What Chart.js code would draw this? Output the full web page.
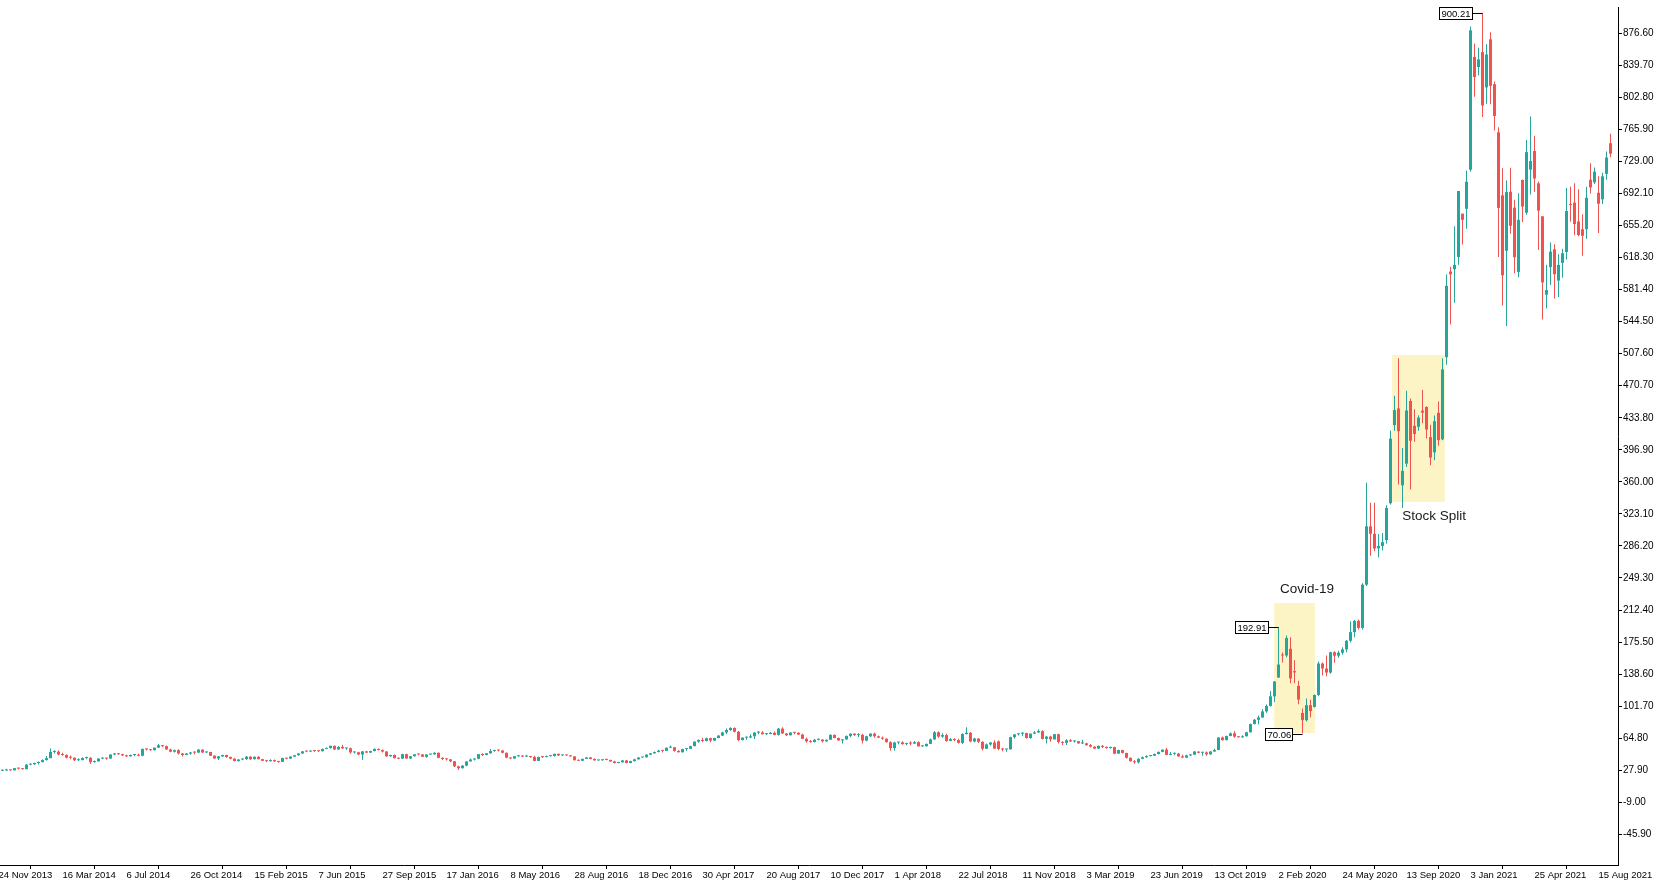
<!DOCTYPE html>
<html>
<head>
<meta charset="utf-8">
<title>Weekly candles</title>
<script src="https://cdn.jsdelivr.net/npm/chart.js@4/dist/chart.umd.min.js"></script>
<style>
  html, body { margin: 0; padding: 0; background: #fff; }
  #chart { display: block; }
</style>
</head>
<body>
<canvas id="chart" width="1657" height="887"></canvas>
<script>
// time axis: one label every 16 weekly candles
const xLabels = [
  '24 Nov 2013', '16 Mar 2014', '6 Jul 2014', '26 Oct 2014', '15 Feb 2015', '7 Jun 2015',
  '27 Sep 2015', '17 Jan 2016', '8 May 2016', '28 Aug 2016', '18 Dec 2016', '30 Apr 2017',
  '20 Aug 2017', '10 Dec 2017', '1 Apr 2018', '22 Jul 2018', '11 Nov 2018', '3 Mar 2019',
  '23 Jun 2019', '13 Oct 2019', '2 Feb 2020', '24 May 2020', '13 Sep 2020', '3 Jan 2021',
  '25 Apr 2021', '15 Aug 2021'
];
const labelStep = 16;

const yTicks = [
  -45.9, -9, 27.9, 64.8, 101.7, 138.6, 175.5, 212.4, 249.3, 286.2, 323.1, 360, 396.9,
  433.8, 470.7, 507.6, 544.5, 581.4, 618.3, 655.2, 692.1, 729, 765.9, 802.8, 839.7, 876.6
];

// weekly OHLC, one entry per candle (index 0 = week of 24 Nov 2013)
const opens = [
  26.2, 27.3, 27.6, 28.0, 27.8, 30.3, 29.8, 29.1, 34.3, 34.8,
  36.2, 37.2, 39.6, 41.8, 49.0, 49.3, 46.0, 45.4, 42.4, 42.3,
  39.4, 39.5, 41.9, 42.2, 37.3, 38.1, 41.3, 41.6, 41.3, 46.0,
  47.0, 46.4, 45.0, 43.9, 45.4, 45.5, 44.6, 52.4, 51.9, 51.0,
  53.9, 56.6, 55.6, 51.8, 49.2, 51.0, 47.2, 45.4, 47.1, 48.4,
  48.2, 51.6, 48.4, 48.9, 44.6, 41.4, 43.9, 45.4, 43.1, 41.2,
  38.4, 40.2, 40.6, 43.5, 40.6, 43.4, 40.6, 38.7, 38.2, 39.6,
  38.0, 37.5, 42.0, 41.2, 43.6, 45.2, 47.2, 49.6, 49.4, 50.1,
  50.0, 49.8, 52.4, 53.4, 56.0, 51.8, 54.8, 53.0, 53.2, 48.4,
  48.6, 46.0, 49.6, 48.2, 50.0, 52.4, 51.2, 49.4, 44.0, 45.4,
  41.8, 41.2, 46.4, 41.4, 44.0, 46.2, 46.0, 43.4, 46.0, 46.2,
  48.0, 42.2, 40.8, 40.4, 38.2, 32.4, 30.2, 33.2, 38.0, 40.2,
  41.0, 46.4, 45.4, 47.4, 50.0, 50.8, 50.6, 48.0, 42.4, 41.4,
  44.0, 44.6, 43.6, 43.8, 43.0, 38.6, 43.2, 43.0, 44.0, 44.4,
  46.8, 45.0, 45.2, 45.0, 43.8, 39.4, 38.8, 41.0, 42.6, 40.8,
  39.2, 39.4, 40.0, 39.8, 38.0, 36.2, 37.0, 39.2, 36.2, 38.4,
  40.4, 42.6, 42.8, 45.8, 47.4, 48.8, 50.4, 50.2, 53.8, 54.4,
  50.2, 48.6, 52.2, 52.6, 55.6, 60.8, 62.8, 61.6, 64.8, 62.0,
  65.0, 67.8, 71.4, 74.2, 76.6, 72.2, 62.6, 65.4, 65.6, 67.0,
  71.2, 71.4, 69.4, 69.6, 71.0, 68.6, 75.8, 70.2, 68.2, 71.2,
  71.0, 69.0, 64.0, 61.2, 60.4, 63.0, 63.2, 61.2, 63.0, 68.6,
  65.0, 62.2, 63.4, 67.4, 70.0, 68.4, 68.6, 62.0, 67.0, 70.0,
  67.0, 65.4, 64.2, 60.2, 53.4, 59.8, 60.0, 58.0, 58.8, 58.6,
  60.2, 55.4, 55.6, 58.2, 63.4, 71.6, 66.6, 68.4, 61.6, 63.6,
  62.6, 59.4, 69.6, 71.0, 61.0, 64.4, 60.6, 52.6, 57.6, 59.8,
  61.2, 52.4, 51.8, 52.0, 66.0, 69.2, 70.0, 70.8, 65.0, 70.0,
  71.4, 73.0, 64.0, 66.6, 63.4, 69.4, 60.4, 59.4, 62.4, 61.0,
  61.4, 58.8, 58.9, 56.8, 55.0, 52.8, 56.0, 54.8, 53.4, 54.6,
  47.0, 51.2, 47.8, 42.2, 38.2, 37.0, 41.0, 42.8, 44.2, 44.6,
  46.6, 49.0, 51.6, 45.6, 46.8, 47.0, 43.8, 42.4, 45.0, 45.8,
  49.4, 48.0, 48.4, 46.2, 49.4, 51.2, 65.6, 62.6, 67.4, 70.4,
  66.6, 65.8, 67.0, 71.6, 81.0, 86.0, 88.6, 95.6, 102.0, 113.0,
  134.7, 160.6, 160.0, 167.8, 142.0, 125.0, 93.8, 85.5, 102.8, 100.8,
  114.6, 150.8, 145.0, 140.4, 163.8, 159.8, 163.2, 167.0, 177.0, 187.0,
  200.0, 191.8, 241.6, 308.8, 300.2, 283.4, 286.2, 293.0, 335.4, 425.3,
  444.6, 356.0, 381.0, 453.1, 424.6, 423.4, 442.0, 446.2, 411.6, 394.0,
  439.5, 408.9, 503.5, 602.2, 604.9, 619.0, 668.9, 674.5, 719.5, 849.4,
  837.8, 855.0, 814.3, 869.7, 818.0, 762.6, 690.0, 626.1, 694.1, 675.8,
  601.8, 707.7, 670.0, 719.6, 741.0, 703.8, 665.8, 575.6, 607.3, 627.8,
  591.8, 612.2, 624.7, 679.8, 681.6, 659.9, 651.0, 651.0, 708.0, 705.0,
  693.0, 685.4, 714.7, 750.0
];
const highs = [
  27.6, 28.6, 29.6, 28.8, 30.5, 30.8, 30.5, 35.2, 35.6, 36.5,
  37.8, 40.5, 44.4, 53.0, 51.0, 50.5, 48.0, 46.2, 44.8, 42.6,
  41.6, 42.8, 43.4, 42.8, 39.0, 41.6, 42.6, 42.2, 46.4, 47.6,
  47.6, 46.8, 45.6, 46.0, 46.0, 46.8, 52.8, 52.9, 52.2, 54.0,
  58.2, 57.0, 56.4, 52.5, 51.8, 52.0, 47.8, 47.8, 48.8, 49.8,
  52.4, 52.0, 49.4, 49.2, 45.2, 44.2, 45.6, 45.8, 43.8, 41.8,
  40.8, 41.6, 44.2, 44.0, 43.8, 43.9, 41.0, 39.4, 40.4, 40.2,
  38.4, 42.4, 42.2, 44.0, 45.2, 47.4, 50.0, 50.4, 50.6, 50.6,
  50.4, 52.8, 54.0, 56.4, 56.4, 55.6, 57.2, 53.8, 54.0, 49.6,
  49.2, 50.0, 50.2, 50.2, 53.2, 53.0, 51.8, 50.0, 45.8, 46.0,
  42.4, 46.8, 47.0, 44.4, 46.4, 47.0, 46.6, 46.4, 46.6, 48.6,
  48.2, 42.8, 41.6, 40.8, 38.6, 33.0, 33.8, 38.2, 41.4, 41.6,
  46.6, 47.4, 47.8, 52.2, 51.6, 51.4, 51.2, 48.4, 42.8, 44.4,
  45.2, 45.0, 45.6, 44.4, 44.6, 43.4, 43.6, 44.8, 45.0, 47.0,
  47.0, 45.6, 45.6, 45.4, 44.0, 40.2, 41.2, 43.0, 43.0, 41.6,
  40.0, 40.6, 41.0, 40.0, 38.8, 37.6, 39.4, 39.8, 38.8, 41.0,
  42.8, 43.2, 46.4, 47.6, 49.4, 51.4, 50.8, 54.2, 56.4, 54.6,
  50.8, 52.6, 53.2, 56.2, 61.4, 63.4, 65.4, 65.2, 65.2, 65.2,
  68.2, 72.2, 76.0, 77.4, 77.0, 73.0, 65.8, 66.8, 69.2, 72.0,
  73.0, 73.2, 70.8, 71.8, 72.6, 76.4, 77.4, 70.8, 71.8, 72.0,
  71.6, 70.0, 65.2, 62.8, 63.8, 64.4, 63.6, 63.4, 69.4, 69.0,
  65.6, 63.8, 67.8, 70.2, 70.6, 70.4, 70.0, 67.6, 70.4, 71.0,
  67.8, 66.8, 64.8, 61.2, 60.6, 60.6, 61.2, 59.6, 61.4, 61.6,
  61.2, 57.0, 58.6, 64.4, 73.0, 72.8, 70.4, 70.0, 65.0, 64.6,
  64.2, 70.4, 77.4, 72.0, 65.4, 64.6, 61.2, 58.8, 60.4, 62.4,
  62.2, 53.6, 52.4, 66.4, 69.4, 70.4, 71.8, 71.0, 70.2, 73.0,
  75.0, 74.0, 67.4, 67.6, 69.6, 69.8, 61.4, 63.6, 63.8, 62.4,
  61.6, 63.0, 59.4, 58.2, 55.6, 56.4, 57.0, 55.2, 55.2, 54.8,
  51.6, 51.4, 48.0, 42.6, 39.6, 41.6, 43.8, 45.0, 45.4, 47.2,
  49.4, 51.8, 53.4, 48.8, 48.2, 47.8, 45.6, 45.6, 46.2, 50.0,
  49.6, 49.2, 49.4, 50.0, 52.6, 66.0, 66.8, 67.6, 71.4, 72.8,
  67.4, 68.2, 72.2, 81.6, 87.0, 90.8, 98.2, 103.6, 119.0, 130.6,
  192.91, 163.4, 183.0, 181.0, 154.6, 131.0, 99.0, 110.6, 109.0, 115.0,
  153.0, 152.0, 160.0, 164.4, 165.0, 165.6, 169.6, 178.0, 199.6, 201.0,
  201.6, 243.2, 359.0, 335.8, 336.0, 300.0, 301.2, 333.0, 419.1, 459.1,
  502.5, 399.0, 465.0, 456.0, 443.7, 436.8, 465.9, 447.0, 425.8, 436.4,
  452.5, 502.5, 598.8, 607.8, 654.3, 695.0, 668.9, 718.7, 884.5, 865.0,
  860.0, 900.21, 864.0, 877.8, 821.0, 768.5, 721.1, 707.0, 721.8, 684.8,
  692.4, 708.2, 753.8, 780.8, 758.5, 706.0, 666.1, 610.0, 635.6, 633.8,
  622.0, 628.4, 698.3, 700.0, 704.0, 697.0, 668.2, 700.0, 727.0, 722.0,
  712.0, 716.0, 740.4, 761.0
];
const lows = [
  25.8, 27.0, 27.4, 27.2, 27.6, 28.8, 28.7, 28.9, 33.5, 33.8,
  34.6, 37.0, 39.0, 41.6, 47.2, 45.0, 44.6, 41.3, 40.6, 38.6,
  38.5, 39.4, 40.6, 35.2, 36.5, 37.8, 40.6, 40.0, 41.2, 45.0,
  45.6, 44.3, 43.0, 43.6, 44.0, 44.0, 44.0, 50.5, 50.4, 50.6,
  53.4, 54.4, 51.4, 48.6, 48.2, 46.0, 43.6, 45.0, 45.6, 46.4,
  48.0, 47.6, 47.6, 44.2, 41.0, 39.6, 43.2, 42.4, 40.4, 38.2,
  38.0, 39.4, 40.0, 39.8, 40.2, 40.4, 38.6, 37.4, 38.0, 37.6,
  36.6, 37.3, 40.4, 41.0, 43.0, 44.6, 46.6, 48.6, 48.8, 49.0,
  49.0, 49.6, 52.0, 53.0, 51.2, 51.4, 52.6, 51.4, 47.0, 47.2,
  45.2, 39.8, 47.6, 47.6, 49.4, 50.6, 48.4, 43.2, 43.4, 41.4,
  40.4, 41.0, 41.2, 40.8, 43.6, 45.0, 43.0, 42.4, 45.4, 45.8,
  41.8, 39.6, 39.0, 37.0, 31.6, 28.2, 30.0, 32.6, 37.8, 39.0,
  40.6, 44.4, 45.0, 47.0, 49.2, 49.4, 47.4, 41.8, 40.6, 41.0,
  43.4, 43.0, 43.4, 42.4, 38.2, 38.4, 42.0, 42.8, 43.6, 43.8,
  44.2, 44.4, 44.6, 43.6, 39.0, 38.6, 38.4, 40.8, 40.6, 39.0,
  38.8, 38.8, 39.4, 37.6, 35.6, 35.8, 36.8, 36.0, 36.0, 38.0,
  40.2, 42.4, 42.6, 45.4, 47.0, 48.6, 48.2, 50.0, 53.4, 49.2,
  48.2, 48.4, 50.4, 52.4, 55.4, 59.6, 60.2, 61.0, 60.2, 61.6,
  64.6, 67.4, 69.2, 73.4, 71.2, 61.4, 62.2, 63.0, 64.6, 63.8,
  69.4, 69.0, 68.4, 69.2, 68.2, 68.0, 69.8, 67.2, 68.0, 69.4,
  68.4, 63.8, 59.6, 59.6, 59.8, 62.4, 59.8, 60.6, 62.8, 64.6,
  61.8, 58.8, 63.0, 66.0, 67.2, 66.0, 58.6, 61.2, 66.2, 65.4,
  65.0, 63.0, 59.8, 50.4, 50.2, 57.8, 57.2, 56.8, 56.6, 58.2,
  55.2, 55.0, 55.0, 58.0, 62.8, 65.2, 65.2, 60.6, 61.4, 61.4,
  58.6, 58.2, 69.0, 60.2, 60.2, 59.2, 50.6, 52.2, 56.2, 52.2,
  50.8, 49.8, 49.2, 51.4, 64.4, 67.8, 67.0, 64.4, 64.0, 69.6,
  71.0, 63.4, 58.8, 60.6, 63.2, 58.8, 57.0, 57.0, 60.4, 59.8,
  58.4, 58.2, 56.0, 54.2, 52.4, 52.4, 53.4, 52.6, 52.8, 46.4,
  46.8, 47.2, 41.4, 38.0, 35.4, 35.6, 40.4, 42.4, 43.6, 44.4,
  46.0, 48.6, 45.0, 45.2, 45.0, 43.4, 42.2, 42.0, 44.4, 45.6,
  47.4, 44.6, 44.6, 45.8, 49.2, 50.8, 61.8, 62.2, 67.0, 65.4,
  65.6, 65.4, 66.8, 71.4, 80.8, 80.6, 88.2, 94.0, 101.2, 106.4,
  134.0, 152.0, 158.0, 128.0, 128.0, 104.0, 70.06, 84.0, 89.0, 100.0,
  113.0, 137.0, 136.0, 139.0, 151.6, 157.4, 161.0, 163.8, 175.0, 181.0,
  190.0, 190.0, 240.0, 275.0, 280.0, 273.2, 281.0, 289.0, 334.0, 419.0,
  356.9, 329.9, 377.0, 351.3, 406.1, 419.0, 427.5, 410.0, 379.1, 385.0,
  401.7, 408.0, 495.0, 541.2, 566.3, 610.0, 633.4, 651.4, 717.2, 803.6,
  828.0, 780.1, 795.6, 795.0, 764.6, 619.0, 563.0, 539.5, 645.7, 600.4,
  595.6, 659.2, 667.5, 691.0, 694.0, 627.0, 546.9, 559.7, 586.8, 571.2,
  573.0, 595.0, 616.0, 659.6, 644.1, 643.0, 620.5, 640.0, 692.0, 703.0,
  646.6, 680.0, 708.0, 734.0
];
const closes = [
  27.3, 27.6, 28.0, 27.8, 30.3, 29.8, 29.1, 34.3, 34.8, 36.2,
  37.2, 39.6, 41.8, 49.0, 49.3, 46.0, 45.4, 42.4, 42.3, 39.4,
  39.5, 41.9, 42.2, 37.3, 38.1, 41.3, 41.6, 41.3, 46.0, 47.0,
  46.4, 45.0, 43.9, 45.4, 45.5, 44.6, 52.4, 51.9, 51.0, 53.9,
  56.6, 55.6, 51.8, 49.2, 51.0, 47.2, 45.4, 47.1, 48.4, 48.2,
  51.6, 48.4, 48.9, 44.6, 41.4, 43.9, 45.4, 43.1, 41.2, 38.4,
  40.2, 40.6, 43.5, 40.6, 43.4, 40.6, 38.7, 38.2, 39.6, 38.0,
  37.5, 42.0, 41.2, 43.6, 45.2, 47.2, 49.6, 49.4, 50.1, 50.0,
  49.8, 52.4, 53.4, 56.0, 51.8, 54.8, 53.0, 53.2, 48.4, 48.6,
  46.0, 49.6, 48.2, 50.0, 52.4, 51.2, 49.4, 44.0, 45.4, 41.8,
  41.2, 46.4, 41.4, 44.0, 46.2, 46.0, 43.4, 46.0, 46.2, 48.0,
  42.2, 40.8, 40.4, 38.2, 32.4, 30.2, 33.2, 38.0, 40.2, 41.0,
  46.4, 45.4, 47.4, 50.0, 50.8, 50.6, 48.0, 42.4, 41.4, 44.0,
  44.6, 43.6, 43.8, 43.0, 38.6, 43.2, 43.0, 44.0, 44.4, 46.8,
  45.0, 45.2, 45.0, 43.8, 39.4, 38.8, 41.0, 42.6, 40.8, 39.2,
  39.4, 40.0, 39.8, 38.0, 36.2, 37.0, 39.2, 36.2, 38.4, 40.4,
  42.6, 42.8, 45.8, 47.4, 48.8, 50.4, 50.2, 53.8, 54.4, 50.2,
  48.6, 52.2, 52.6, 55.6, 60.8, 62.8, 61.6, 64.8, 62.0, 65.0,
  67.8, 71.4, 74.2, 76.6, 72.2, 62.6, 65.4, 65.6, 67.0, 71.2,
  71.4, 69.4, 69.6, 71.0, 68.6, 75.8, 70.2, 68.2, 71.2, 71.0,
  69.0, 64.0, 61.2, 60.4, 63.0, 63.2, 61.2, 63.0, 68.6, 65.0,
  62.2, 63.4, 67.4, 70.0, 68.4, 68.6, 62.0, 67.0, 70.0, 67.0,
  65.4, 64.2, 60.2, 53.4, 59.8, 60.0, 58.0, 58.8, 58.6, 60.2,
  55.4, 55.6, 58.2, 63.4, 71.6, 66.6, 68.4, 61.6, 63.6, 62.6,
  59.4, 69.6, 71.0, 61.0, 64.4, 60.6, 52.6, 57.6, 59.8, 52.8,
  52.4, 51.8, 52.0, 66.0, 69.2, 70.0, 70.8, 65.0, 70.0, 71.4,
  73.0, 64.0, 66.6, 63.4, 69.4, 60.4, 59.4, 62.4, 61.0, 61.4,
  58.8, 58.9, 56.8, 55.0, 52.8, 56.0, 54.8, 53.4, 54.6, 47.0,
  51.2, 47.8, 42.2, 38.2, 37.0, 41.0, 42.8, 44.2, 44.6, 46.6,
  49.0, 51.6, 45.6, 46.8, 47.0, 43.8, 42.4, 45.0, 45.8, 49.4,
  48.0, 48.4, 46.2, 49.4, 51.2, 65.6, 62.6, 67.4, 70.4, 66.6,
  65.8, 67.0, 71.6, 81.0, 86.0, 88.6, 95.6, 102.0, 113.0, 130.0,
  149.6, 160.0, 180.2, 133.6, 140.6, 109.2, 85.5, 102.8, 96.0, 114.6,
  150.8, 145.0, 140.4, 163.8, 159.8, 163.2, 167.0, 177.0, 187.0, 200.0,
  191.8, 241.6, 308.8, 300.2, 283.4, 286.2, 290.6, 330.0, 409.8, 442.7,
  418.3, 372.7, 442.2, 407.3, 415.1, 434.0, 439.7, 420.3, 388.0, 429.9,
  408.1, 489.6, 585.8, 599.0, 609.9, 695.0, 661.8, 705.7, 880.0, 826.2,
  846.6, 793.5, 852.2, 816.1, 781.3, 675.5, 597.9, 693.7, 654.9, 618.7,
  661.8, 677.0, 739.8, 729.4, 709.4, 672.4, 589.7, 580.9, 625.2, 599.1,
  609.9, 623.3, 671.9, 678.9, 657.0, 644.2, 643.4, 687.2, 699.1, 717.2,
  680.3, 711.9, 733.6, 738.0
];

const UP = '#26a69a';
const DOWN = '#ef5350';
const candleColor = (i) => closes[i] >= opens[i] ? UP : DOWN;

// shaded areas and notes, in candle index / price units
const shadedAreas = [
  { from: 318.9, to: 329.1, low: 70.8, high: 220.5 },
  { from: 348.4, to: 361.6, low: 336.8, high: 506.1 }
];
const notes = [
  { text: 'Covid-19', at: 327.1, price: 236.6 },
  { text: 'Stock Split', at: 358.9, price: 320.7 }
];
const priceTags = [
  { index: 320, field: 'high' },
  { index: 371, field: 'high' },
  { index: 326, field: 'low' }
];

const annotationPlugin = {
  id: 'annotations',
  beforeDatasetsDraw(chart) {
    const { ctx, scales: { x, y } } = chart;
    ctx.save();
    ctx.fillStyle = '#fdf4c6';
    shadedAreas.forEach(a => {
      const left = x.getPixelForValue(a.from);
      const right = x.getPixelForValue(a.to);
      const top = y.getPixelForValue(a.high);
      const bottom = y.getPixelForValue(a.low);
      ctx.fillRect(left, top, right - left, bottom - top);
    });
    ctx.restore();
  },
  afterDatasetsDraw(chart) {
    const { ctx, scales: { x, y } } = chart;
    ctx.save();
    ctx.fillStyle = '#1a1a1a';
    ctx.font = '13.5px "Liberation Sans", Arial, sans-serif';
    ctx.textAlign = 'center';
    ctx.textBaseline = 'middle';
    notes.forEach(n => {
      ctx.fillText(n.text, x.getPixelForValue(n.at), y.getPixelForValue(n.price));
    });

    // boxed price tags hooked to a candle's high or low
    ctx.font = '9.5px "Liberation Sans", Arial, sans-serif';
    ctx.textAlign = 'left';
    ctx.lineWidth = 1;
    ctx.strokeStyle = '#000';
    priceTags.forEach(t => {
      const value = t.field === 'high' ? highs[t.index] : lows[t.index];
      const label = value.toFixed(2);
      const px = x.getPixelForValue(t.index);
      const py = Math.round(y.getPixelForValue(value)) + 0.5;
      const w = Math.ceil(ctx.measureText(label).width) + 3;
      const right = Math.round(px) - 10.5;
      const left = right - w;
      ctx.beginPath();
      ctx.moveTo(right, py);
      ctx.lineTo(px, py);
      ctx.stroke();
      ctx.fillStyle = '#fff';
      ctx.fillRect(left, py - 6, w, 12);
      ctx.strokeRect(left, py - 6, w, 12);
      ctx.fillStyle = '#000';
      ctx.fillText(label, left + 2, py + 0.5);
    });
    ctx.restore();
  }
};

const axisFont = { family: '"Liberation Sans", Arial, sans-serif', size: 10 };

new Chart(document.getElementById('chart'), {
  type: 'bar',
  data: {
    datasets: [
      {
        label: 'body',
        data: opens.map((o, i) => ({ x: i, y: [o, closes[i]] })),
        backgroundColor: (c) => candleColor(c.dataIndex),
        grouped: false,
        categoryPercentage: 1,
        barPercentage: 0.75,
        maxBarThickness: 3,
        minBarLength: 1,
        borderWidth: 0
      },
      {
        label: 'wick',
        data: lows.map((l, i) => ({ x: i, y: [l, highs[i]] })),
        backgroundColor: (c) => candleColor(c.dataIndex),
        grouped: false,
        categoryPercentage: 1,
        barPercentage: 0.25,
        maxBarThickness: 1,
        borderWidth: 0
      }
    ]
  },
  options: {
    responsive: false,
    animation: false,
    devicePixelRatio: 1,
    layout: { padding: { top: 7, left: 0, right: 0, bottom: 0 } },
    plugins: {
      legend: { display: false },
      tooltip: { enabled: false },
      title: { display: false }
    },
    scales: {
      x: {
        type: 'linear',
        min: 0.375,
        max: 404.875,
        offset: false,
        grid: { drawOnChartArea: false, drawTicks: true, tickLength: 4, color: '#000' },
        border: { display: true, color: '#000', width: 1 },
        ticks: {
          autoSkip: false,
          maxRotation: 0,
          align: 'start',
          padding: 1,
          color: '#000',
          font: { family: axisFont.family, size: 9.5 },
          callback: (v) => xLabels[Math.round(v / labelStep)]
        },
        afterBuildTicks: (s) => { s.ticks = xLabels.map((_, k) => ({ value: k * labelStep })); },
        afterFit: (s) => { s.height = 22; s.paddingLeft = 0; s.paddingRight = 0; }
      },
      y: {
        type: 'linear',
        position: 'right',
        min: -81.26,
        max: 906.9,
        grid: { drawOnChartArea: false, drawTicks: true, tickLength: 4, color: '#000' },
        border: { display: true, color: '#000', width: 1 },
        ticks: {
          padding: 1,
          color: '#000',
          font: axisFont,
          callback: (v) => Number(v).toFixed(2)
        },
        afterBuildTicks: (s) => { s.ticks = yTicks.map(v => ({ value: v })); },
        afterFit: (s) => { s.width = 39; s.paddingTop = 0; s.paddingBottom = 0; }
      }
    }
  },
  plugins: [annotationPlugin]
});
</script>
</body>
</html>
